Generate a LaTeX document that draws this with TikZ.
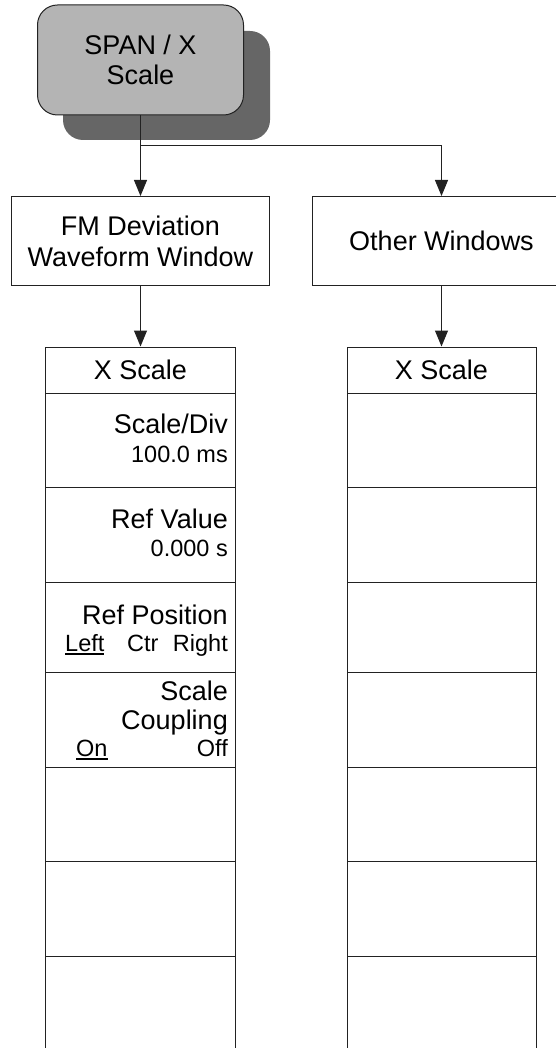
\documentclass[tikz,border=0pt]{standalone}
\usepackage{fontspec}
\setmainfont{Liberation Sans}
\usetikzlibrary{arrows.meta}
\definecolor{keygray}{HTML}{B4B4B4}
\definecolor{shadowgray}{HTML}{666666}
\definecolor{linecol}{HTML}{222222}
\newcommand{\myul}[1]{\setbox0\hbox{#1}\rlap{\rule[-3.5pt]{\wd0}{1.6pt}}\box0}
\begin{document}
\begin{tikzpicture}[x=1pt,y=-1pt,
  box/.style={draw=linecol,line width=1pt,fill=white,inner sep=0pt},
  arr/.style={draw=linecol,line width=1pt,-{Triangle[length=16pt,width=13pt]}},
  conn/.style={draw=linecol,line width=1pt},
  big/.style={font=\fontsize{27}{31}\selectfont,inner sep=0pt},
  small/.style={font=\fontsize{23.5}{27}\selectfont,inner sep=0pt},
  cellL/.style={box,minimum width=190pt},
  cellR/.style={box,minimum width=189pt},
]
\useasboundingbox (0,0) rectangle (556,1048);
\clip (0,0) rectangle (556,1048);

% key with shadow
\node[fill=shadowgray,rounded corners=20pt,minimum width=207pt,minimum height=109pt,inner sep=0pt] (shadow) at (166.5,85.5) {};
\node[draw=linecol,line width=1pt,fill=keygray,rounded corners=20pt,minimum width=206pt,minimum height=110pt,align=center,font=\fontsize{27}{30}\selectfont,inner sep=0pt] (key) at (140.5,60) {SPAN / X\\Scale};

% window boxes
\node[box,minimum width=258pt,minimum height=89pt,align=center,font=\fontsize{27}{31}\selectfont] (fm) at (140.5,241) {FM Deviation\\Waveform Window};
\node[box,minimum width=258pt,minimum height=89pt,align=center,font=\fontsize{27}{31}\selectfont] (oth) at (441.5,241) {Other Windows};

% connectors from key
\coordinate (j) at (140.5,146);
\draw[arr] (key.south) -- (fm.north);
\draw[arr] (j) -| (oth.north);

% left menu
\node[cellL,minimum height=46pt] (lh) at (140.5,370) {};
\node[big] (lht) at (lh.center) {X Scale};
\node[cellL,minimum height=94pt] (l1) at (140.5,440) {};
\node[cellL,minimum height=95pt] (l2) at (140.5,534.5) {};
\node[cellL,minimum height=90pt] (l3) at (140.5,627) {};
\node[cellL,minimum height=95pt] (l4) at (140.5,719.5) {};
\node[cellL,minimum height=94pt] (l5) at (140.5,814) {};
\node[cellL,minimum height=95pt] (l6) at (140.5,908.5) {};
\node[cellL,minimum height=94pt] (l7) at (140.5,1003) {};

% right menu
\node[cellR,minimum height=46pt] (rh) at (441.5,370) {};
\node[big] (rht) at (rh.center) {X Scale};
\node[cellR,minimum height=94pt] (r1) at (441.5,440) {};
\node[cellR,minimum height=95pt] (r2) at (441.5,534.5) {};
\node[cellR,minimum height=90pt] (r3) at (441.5,627) {};
\node[cellR,minimum height=95pt] (r4) at (441.5,719.5) {};
\node[cellR,minimum height=94pt] (r5) at (441.5,814) {};
\node[cellR,minimum height=95pt] (r6) at (441.5,908.5) {};
\node[cellR,minimum height=94pt] (r7) at (441.5,1003) {};

% connectors to menus
\draw[arr] (fm.south -| lh.north) -- (lh.north);
\draw[arr] (oth.south -| rh.north) -- (rh.north);

% left menu labels
\node[big,anchor=base east] (sd) at (228,433) {Scale/Div};
\node[small,anchor=base east] (sdv) at (228,462) {100.0 ms};
\node[big,anchor=base east] (rv) at (228,528) {Ref Value};
\node[small,anchor=base east] (rvv) at (228,556) {0.000 s};
\node[big,anchor=base east] (rp) at (228,624) {Ref Position};
\node[small,anchor=base west] (rpl) at (65,651) {\myul{Left}};
\node[small,anchor=base west] (rpc) at (127,651) {Ctr};
\node[small,anchor=base east] (rpr) at (228,651) {Right};
\node[big,anchor=base east] (sc1) at (228,700) {Scale};
\node[big,anchor=base east] (sc2) at (228,729) {Coupling};
\node[small,anchor=base west] (scon) at (76,756) {\myul{On}};
\node[small,anchor=base east] (scoff) at (228,756) {Off};
\end{tikzpicture}
\end{document}
